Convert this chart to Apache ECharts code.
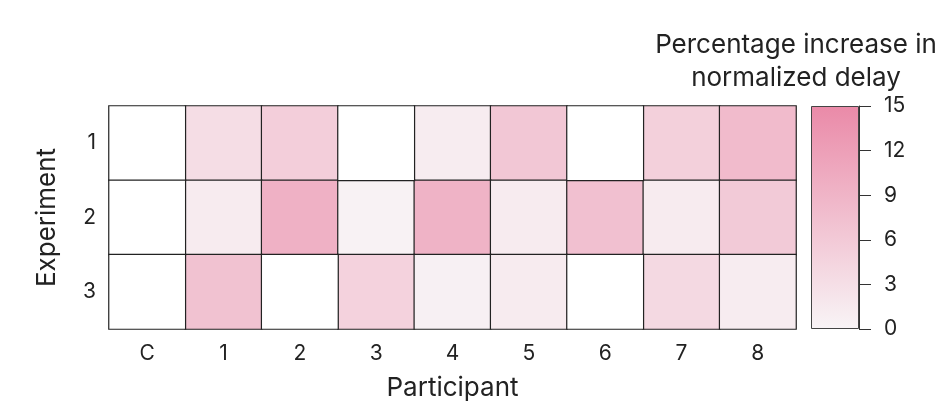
<!DOCTYPE html>
<html>
<head>
<meta charset="utf-8">
<script src="https://cdn.jsdelivr.net/npm/echarts@6/dist/echarts.min.js"></script>
<style>html,body{margin:0;padding:0;background:#fff;}#c{width:942px;height:409px;}</style>
</head>
<body>
<div id="c"></div>
<script>
const participants = ['C', '1', '2', '3', '4', '5', '6', '7', '8'];
const experiments = ['1', '2', '3'];
// null = no data (white cell)
const exp1 = [null, 3.3, 5.4, null, 1.2, 6.4, null, 5.1, 8.0];
const exp2 = [null, 1.3, 9.5, 0.3, 9.2, 1.3, 7.3, 1.3, 6.0];
const exp3 = [null, 7.1, null, 4.8, 0.6, 1.3, null, 3.8, 1.2];
const colorTicks = [0, 3, 6, 9, 12, 15];
const colorMin = 0, colorMax = 15;
const palette = ['#f8f4f6', '#ea8aa8'];

const rows = [exp1, exp2, exp3];
const filled = [], empty = [];
rows.forEach((row, yi) => row.forEach((v, xi) => {
  if (v === null) empty.push([xi, yi, 0]); else filled.push([xi, yi, v]);
}));

const font = 'Inter, "Noto Sans", sans-serif';
const txt = '#222';
const chart = echarts.init(document.getElementById('c'), null, {renderer: 'canvas'});
chart.setOption({
  animation: false,
  textStyle: {fontFamily: font, color: txt},
  graphic: [{
    type: 'text',
    style: {
      text: 'Percentage increase in\nnormalized delay',
      x: 796, y: 29, align: 'center', verticalAlign: 'top',
      font: '26px ' + font, fill: txt, lineHeight: 33
    }
  }],
  grid: [
    {left: 109, right: 146, top: 106, bottom: 80},
    {left: 811, width: 48, top: 106, bottom: 80}
  ],
  xAxis: [{
    type: 'category', data: participants, gridIndex: 0,
    axisLine: {show: false}, axisTick: {show: false}, splitLine: {show: false},
    axisLabel: {fontSize: 21, color: txt, margin: 14, fontFamily: font},
    name: 'Participant', nameLocation: 'middle', nameGap: 46,
    nameTextStyle: {fontSize: 26, color: txt, fontFamily: font}
  }, {
    type: 'category', data: ['scale'], gridIndex: 1, show: false
  }],
  yAxis: [{
    type: 'category', data: experiments, inverse: true, gridIndex: 0,
    axisLine: {show: false}, axisTick: {show: false}, splitLine: {show: false},
    axisLabel: {fontSize: 21, color: txt, margin: 13, fontFamily: font},
    name: 'Experiment', nameLocation: 'middle', nameGap: 49, nameRotate: 90,
    nameTextStyle: {fontSize: 26, color: txt, fontFamily: font}
  }, {
    type: 'value', gridIndex: 1, min: colorMin, max: colorMax, interval: 3,
    position: 'right',
    axisLine: {show: true, lineStyle: {color: '#333', width: 1}},
    axisTick: {show: true, inside: false, length: 12, lineStyle: {color: '#333'}},
    splitLine: {show: false},
    axisLabel: {fontSize: 21, color: txt, margin: 25, fontFamily: font,
      formatter: v => colorTicks.includes(v) ? String(v) : ''}
  }],
  visualMap: {
    show: false, type: 'continuous', min: colorMin, max: colorMax,
    seriesIndex: 0, inRange: {color: palette}
  },
  series: [{
    type: 'heatmap', xAxisIndex: 0, yAxisIndex: 0, data: filled,
    itemStyle: {borderColor: '#222', borderWidth: 1.2}, emphasis: {disabled: true}
  }, {
    type: 'heatmap', xAxisIndex: 0, yAxisIndex: 0, data: empty,
    itemStyle: {color: '#ffffff', borderColor: '#222', borderWidth: 1.2}, emphasis: {disabled: true}
  }, {
    type: 'bar', xAxisIndex: 1, yAxisIndex: 1, data: [colorMax], barWidth: '100%',
    itemStyle: {
      borderColor: '#444', borderWidth: 1,
      color: new echarts.graphic.LinearGradient(0, 0, 0, 1, [
        {offset: 0, color: palette[1]}, {offset: 1, color: palette[0]}
      ])
    },
    emphasis: {disabled: true}
  }]
});
</script>
</body>
</html>
